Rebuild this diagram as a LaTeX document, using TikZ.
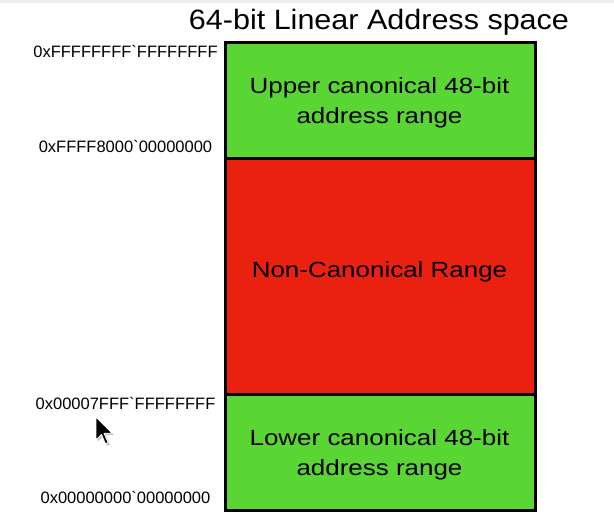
\documentclass[tikz,border=0pt]{standalone}
\usepackage{fontspec}
\setmainfont{Liberation Sans}
\newfontfamily\labfont{Liberation Sans}[Ligatures=TeXOff]
\definecolor{cgreen}{RGB}{89,213,52}
\definecolor{cred}{RGB}{234,33,17}
\definecolor{topband}{RGB}{238,238,238}
\newcommand{\hstretch}[2]{\scalebox{#1}[1]{#2}}
\begin{document}
\begin{tikzpicture}[x=1pt,y=-1pt,
  region/.style={draw=black, line width=3pt, rectangle, minimum width=310.5pt, anchor=north west, inner sep=0pt},
  inner/.style={font=\fontsize{22}{30}\selectfont, anchor=base, inner sep=0pt},
  addr/.style={font=\labfont\fontsize{16.5}{18}\selectfont, anchor=base, inner sep=0pt},
  titlestyle/.style={font=\fontsize{28}{32}\selectfont, anchor=base, inner sep=0pt},
]
\useasboundingbox (0,0) rectangle (614,522);
\fill[topband] (0,0) rectangle (614,3);
% regions
\node[region, fill=cgreen, minimum height=115.5pt] (upper) at (223.5,41) {};
\node[region, fill=cred, minimum height=236.5pt] (noncanon) at (223.5,156.5) {};
\node[region, fill=cgreen, minimum height=115.5pt] (lower) at (223.5,393) {};
% title
\node[titlestyle] (title) at (379,30) {\hstretch{1.09}{64-bit Linear Address space}};
% region texts
\node[inner] (upper1) at (379.5,93) {\hstretch{1.18}{Upper canonical 48-bit}};
\node[inner] (upper2) at (379.5,123) {\hstretch{1.18}{address range}};
\node[inner] (noncanontxt) at (379.5,277) {\hstretch{1.18}{Non-Canonical Range}};
\node[inner] (lower1) at (379.5,445) {\hstretch{1.18}{Lower canonical 48-bit}};
\node[inner] (lower2) at (379.5,475) {\hstretch{1.18}{address range}};
% address labels
\node[addr] (a1) at (125.5,57) {0xFFFFFFFF`FFFFFFFF};
\node[addr] (a2) at (125.5,152) {0xFFFF8000`00000000};
\node[addr] (a3) at (125.5,409) {0x00007FFF`FFFFFFFF};
\node[addr] (a4) at (125.5,503) {0x00000000`00000000};
% mouse cursor
\begin{scope}[shift={(96,417)}, scale=1.35]
  \fill[black!25, shift={(1.2,1.2)}] (0,0) -- (0,17) -- (4,13) -- (7,20) -- (9,19) -- (6,12) -- (12,12) -- cycle;
  \filldraw[fill=black, draw=white, line width=0.9pt, line join=round] (0,0) -- (0,17) -- (4,13) -- (7,20) -- (9,19) -- (6,12) -- (12,12) -- cycle;
\end{scope}
\end{tikzpicture}
\end{document}
